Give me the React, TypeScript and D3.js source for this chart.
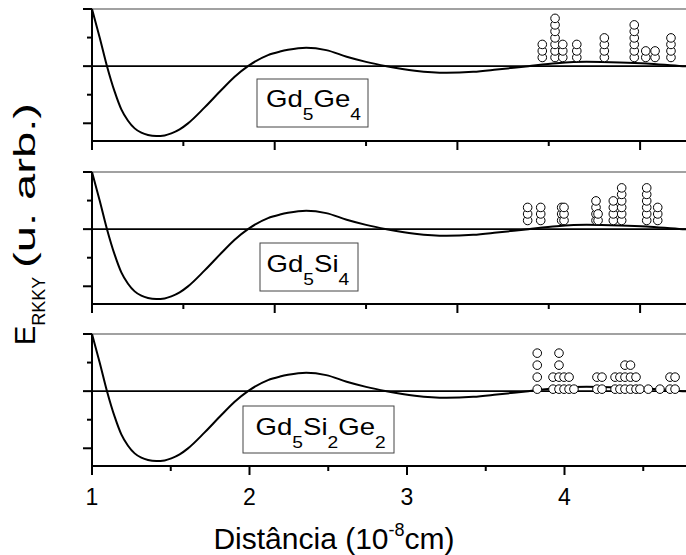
import React from "react";
import * as d3 from "d3";

// ---- Data ----
const curveX = [1.0, 1.0487, 1.0952, 1.1439, 1.1862, 1.2286, 1.2709, 1.3132, 1.3556, 1.4085, 1.4614, 1.5037, 1.5566, 1.6095, 1.7153, 1.8212, 1.9058, 1.9905, 2.1175, 2.1937, 2.2444, 2.36, 2.487, 2.617, 2.74, 2.87, 3.05, 3.252, 3.42, 3.57, 3.77, 3.95, 4.14, 4.35, 4.52, 4.75, 4.95];
const curveY = [1.0, 0.503, 0.0, -0.447, -0.757, -0.955, -1.089, -1.165, -1.206, -1.223, -1.212, -1.177, -1.107, -1.002, -0.722, -0.418, -0.185, 0.0, 0.194, 0.255, 0.285, 0.322, 0.28, 0.165, 0.075, 0.0, -0.08, -0.117, -0.1, -0.06, 0.0, 0.05, 0.075, 0.065, 0.047, 0.0, -0.02];

const topMarkX = [3.859, 3.94, 3.989, 4.078, 4.253, 4.443, 4.516, 4.575, 4.676];
const topMarkN = [3, 7, 3, 3, 4, 6, 2, 2, 4];
const midMarkX = [3.766, 3.849, 3.982, 3.997, 4.2, 4.213, 4.31, 4.363, 4.522, 4.592];
const midMarkN = [3, 3, 3, 3, 4, 2, 4, 6, 6, 3];
const botMarkX = [3.827, 3.927, 3.965, 3.997, 4.029, 4.06, 4.206, 4.238, 4.321, 4.352, 4.384, 4.419, 4.454, 4.479, 4.532, 4.606, 4.67, 4.702];
const botMarkN = [4, 2, 4, 2, 2, 1, 2, 2, 2, 2, 3, 3, 2, 1, 1, 1, 2, 2];
// marker stacking (data units): base value and step per panel
const markBase = [0.152, 0.152, 0.035];
const markStep = [0.114, 0.114, 0.21];

const panelLabels: [string, boolean][][] = [
  [["Gd", false], ["5", true], ["Ge", false], ["4", true]],
  [["Gd", false], ["5", true], ["Si", false], ["4", true]],
  [["Gd", false], ["5", true], ["Si", false], ["2", true], ["Ge", false], ["2", true]],
];

const xTicksMajor = [1, 2, 3, 4];
const xTicksMinor = [1.5, 2.5, 3.5, 4.5];
const upTicksMajor = [1, 2, 3, 4];
const upTicksMinor = [1.5, 2.5, 3.5];
const yTicksMajor = [-1, 0, 1];
const yTicksMinor = [-0.5, 0.5];

// ---- Layout ----
const W = 686;
const H = 555;
const X0 = 92;
const panelTop = [9, 172, 334];
const panelH = 132;
const boxes = [
  { x: 257, y: 79, w: 111, h: 48, tx: 266, base: 107 },
  { x: 260, y: 243, w: 98, h: 48, tx: 266.5, base: 271.5 },
  { x: 243, y: 406, w: 151, h: 47, tx: 255.5, base: 435 },
];
const FONT = "Liberation Sans, Arial, Helvetica, sans-serif";

export default function App() {
  const x = d3.scaleLinear().domain([1, 4.9]).range([X0, X0 + 3.9 * 157.5]);
  const xUp = d3.scaleLinear().domain([1, 2]).range([X0, 274.7]);
  const pts: [number, number][] = curveX.map((v, i) => [v, curveY[i]]);
  const marks = [
    { xs: topMarkX, ns: topMarkN },
    { xs: midMarkX, ns: midMarkN },
    { xs: botMarkX, ns: botMarkN },
  ];

  return (
    <svg
      width={W}
      height={H}
      style={{ position: "absolute", left: 0, top: 0, background: "#fff" }}
      fontFamily={FONT}
    >
      <rect x={0} y={0} width={W} height={H} fill="#fff" />
      {panelTop.map((top, pi) => {
        const y = d3.scaleLinear().domain([-1.31, 1]).range([top + panelH, top]);
        const line = d3
          .line<[number, number]>()
          .x((d) => x(d[0]))
          .y((d) => y(d[1]))
          .curve(d3.curveMonotoneX);
        const isBottom = pi === 2;
        const tMaj = isBottom ? xTicksMajor.map((v) => x(v)) : upTicksMajor.map((v) => xUp(v));
        const tMin = isBottom ? xTicksMinor.map((v) => x(v)) : upTicksMinor.map((v) => xUp(v));
        const m = marks[pi];
        const circles: { cx: number; cy: number }[] = [];
        m.xs.forEach((xv, i) => {
          for (let k = 0; k < m.ns[i]; k++) {
            circles.push({ cx: x(xv), cy: y(markBase[pi] + k * markStep[pi]) });
          }
        });
        const b = boxes[pi];
        let sub = false;
        return (
          <g key={pi}>
            {/* top frame line */}
            <line x1={X0} x2={W} y1={y(1)} y2={y(1)} stroke="#444" strokeWidth={1.2} />
            {/* zero line */}
            <line x1={X0} x2={W} y1={y(0)} y2={y(0)} stroke="#000" strokeWidth={1.6} />
            {/* curve */}
            <path d={line(pts) || ""} fill="none" stroke="#000" strokeWidth={2} />
            {/* markers */}
            {circles.map((c, i) => (
              <circle key={i} cx={c.cx} cy={c.cy} r={4.3} fill="#fff" stroke="#000" strokeWidth={1} />
            ))}
            {/* bottom axis */}
            <line x1={X0} x2={W} y1={top + panelH} y2={top + panelH} stroke="#000" strokeWidth={2} />
            {tMaj.map((px, i) => (
              <line key={"M" + i} x1={px} x2={px} y1={top + panelH} y2={top + panelH + 9} stroke="#000" strokeWidth={2} />
            ))}
            {tMin.map((px, i) => (
              <line key={"m" + i} x1={px} x2={px} y1={top + panelH} y2={top + panelH + 5} stroke="#000" strokeWidth={2} />
            ))}
            {/* left axis */}
            <line x1={X0} x2={X0} y1={top} y2={top + panelH} stroke="#000" strokeWidth={2} />
            {yTicksMajor.map((v, i) => (
              <line key={"yM" + i} x1={X0 - 9} x2={X0} y1={y(v)} y2={y(v)} stroke="#000" strokeWidth={2} />
            ))}
            {yTicksMinor.map((v, i) => (
              <line key={"ym" + i} x1={X0 - 5} x2={X0} y1={y(v)} y2={y(v)} stroke="#000" strokeWidth={2} />
            ))}
            {/* label box */}
            <rect x={b.x} y={b.y} width={b.w} height={b.h} fill="#fff" stroke="#444" strokeWidth={1} />
            <g transform={`translate(${b.tx},${b.base}) scale(1.2,1)`}>
              <text x={0} y={0} fontSize={23} fill="#000">
                {panelLabels[pi].map(([s, isSub], i) => {
                  let dy = 0;
                  if (isSub && !sub) dy = 13;
                  if (!isSub && sub) dy = -13;
                  sub = isSub;
                  return (
                    <tspan key={i} dy={dy} fontSize={isSub ? 16 : 23}>
                      {s}
                    </tspan>
                  );
                })}
              </text>
            </g>
          </g>
        );
      })}
      {/* x tick labels */}
      {xTicksMajor.map((v) => (
        <text key={v} x={x(v)} y={505} textAnchor="middle" fontSize={23} fill="#000">
          {v}
        </text>
      ))}
      {/* x title */}
      <text x={334} y={549} textAnchor="middle" fontSize={30} fill="#000">
        Distância (10<tspan fontSize={18} baselineShift="70%">-8</tspan>cm)
      </text>
      {/* y title */}
      <text transform="translate(35,345) rotate(-90)" fontSize={29} fill="#000">
        E<tspan fontSize={18} dy={10}>RKKY</tspan>
      </text>
      <text transform="translate(35,268) rotate(-90)" fontSize={30} fill="#000" textLength={165} lengthAdjust="spacingAndGlyphs">
        (u. arb.)
      </text>
    </svg>
  );
}
